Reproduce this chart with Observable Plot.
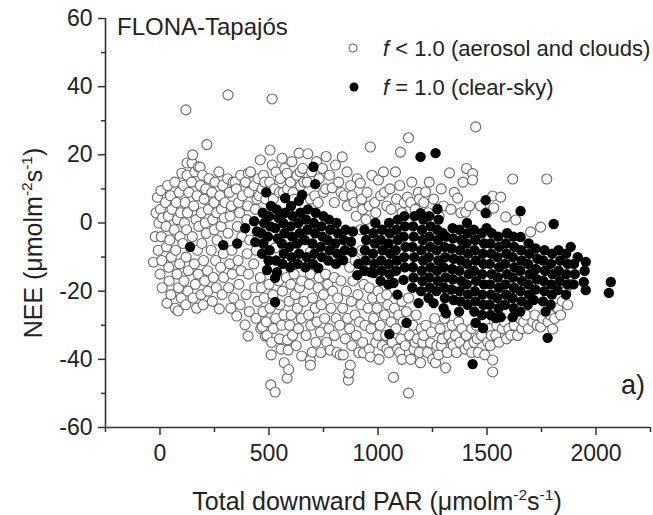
<!DOCTYPE html>
<html><head><meta charset="utf-8">
<script src="https://cdn.jsdelivr.net/npm/d3@7"></script>
<script src="https://cdn.jsdelivr.net/npm/@observablehq/plot@0.6"></script>
<style>body{margin:0;background:#fff}</style>
</head><body><div id="chart"></div>
<script>
const xMajorTicks = [0, 500, 1000, 1500, 2000];
const xMinorTicks = [-250, 250, 750, 1250, 1750, 2250];
const yMajorTicks = [-60, -40, -20, 0, 20, 40, 60];
const yMinorTicks = [-50, -30, -10, 10, 30, 50];
const siteName = "FLONA-Tapajós";
const panelTag = "a)";
const seriesLabels = [" < 1.0 (aerosol and clouds)", " = 1.0 (clear-sky)"];

// f < 1.0 : [PAR, NEE]
const openLeft = [[-30,-11.5],[-22,-4],[-18,3],[-12,7.5],[-8,-8],[-5,0],[0,-15],[2,4],[4,9.5],[6,-4],[8,-11],[10,-19],[12,1.5],
[25,6],[28,-1],[30,-7],[32,-23.5],[35,11],[38,2],[40,-13],[42,-17],[45,-5],[48,8],[50,-21],[52,-10],[55,4],
[65,-2],[68,12],[70,-25],[72,-8],[75,6],[78,-15],[80,1],[83,-25.8],[85,-19],[88,9],[90,-12],[92,-4],[95,3],[97,-22],
[100,14.6],[105,-6],[108,11],[110,-17],[112,0],[115,6],[118,-24],[120,-10],[122,-2],[124,17.6],[126,3],[128,-20],[130,-14],[132,9],[119,33.2],[124,14],
[145,12],[147,17.6],[148,-4],[150,20],[152,-22],[155,5],[158,-12],[160,15],[162,-18],[165,1],[168,-25],[170,8],[172,-8],[175,-15],[176,16.5],[178,-1],[184,16.4],
[185,11],[188,-21],[190,3],[192,-6],[195,14],[198,-24],[200,-11],[202,7],[205,-17],[208,0],[210,10],[212,-3],[215,23],[218,-14],[220,-20],[222,4],[225,13],
[235,-8],[238,9],[240,-23],[242,1],[245,-16],[248,6],[250,-2],[252,12],[255,-11],[258,-19],[260,3],[262,-5],
[270,15],[272,-25.2],[275,8],[278,-13],[280,-1],[282,4],[285,-21],[288,11],[290,-9],[292,-16],[295,1.5],[298,6],[312,37.6],
[310,13],[312,-3],[315,-19],[318,9],[320,-12],[322,2],[325,-25],[328,5],[330,-8],[332,-15],[335,12],[338,-22],
[345,12],[350,10],[352,-27.3],[355,-1],[358,-11],[360,6],[362,-18],[365,3],[368,-24],[370,14],[372,-14],[375,-4],[378,8],
[390,-29.9],[392,12],[395,-21],[398,1],[400,-9],[402,5],[404,-33.2],[406,-15],[408,9],[410,-26],[412,-5],[405,14.6],[415,15],
[430,-12],[432,11],[435,-19],[438,4],[440,-28],[442,-8],[445,7],[448,-23],[450,13]];

const openMid = [[455,8],[460,-16],[460,18.5],[462,-31],[465,-19],[468,10],[469,-30.5],[472,-26],[475,14],[478,-22],[480,12],[483,-33.2],[485,7],[488,-29],[491,-33],
[500,-18],[503,12],[505,-25],[505,21.4],[508,-47.5],[510,-38.7],[512,-35],[514,36.4],[515,17],[518,-21],[520,-31],[520,7],[525,10],[528,-49.6],[528,-7.3],[530,-28],[532,15],
[545,-17],[548,-34],[548,9],[550,-24],[552,13],[555,-37],[558,-30],[560,19],[562,-20],[565,9],[568,-27],[570,-41],[572,16],[580,-16],
[583,-45.5],[583,14.6],[585,-34.3],[585,10],[588,-37.3],[590,-43],[592,-23],[595,-30],[598,12],[600,-18],[602,-27],[605,18],[608,-33],[610,9],[615,-15],[615,7],
[620,-21],[625,-36],[628,14],[630,-25],[635,-31],[638,20.5],[640,-19],[643,15],[645,11],[648,-28],[650,-39],[650,-17],[655,16],[660,-23],[660,12],
[670,-33],[675,12],[678,20.3],[682,-27],[685,-18],[689,-40.2],[690,-41.7],[690,-8.5],[690,7],[692,-30],[695,15],[698,-37.9],[700,-22],[690,-15],
[710,8],[712,-25],[715,-35],[718,18],[720,-29],[725,-19],[725,6],[730,13],[730,-16],[735,-32],[738,-38],[740,-24],[745,16],
[750,-21],[750,9],[755,-28],[762,19.5],[760,10],[765,-35],[770,-18],[775,-31],[778,14],[781,-37.3],[785,-25],[790,10.3],[792,-20],[760,-15],
[800,-33],[800,6],[805,17],[808,-28],[812,-38],[815,-22],[800,-16],[820,12],[825,-30],[827,-38.7],[830,-17],[830,9],[836,19.4],[838,-25],[841,-38.7],[845,8],
[850,-34],[855,-20],[858,15],[860,-28],[860,5],[864,-46.1],[866,-44],[870,-31],[870,-13],[873,-41.7],[875,11],[878,-23],[880,-36],[880,8],[885,-17],
[890,6],[895,-27],[895,-11],[900,-33],[900,2],[905,13],[908,-21],[912,-38],[915,-29],[919,11.7],[920,-2],[922,-24],[925,7],[925,-8],[930,-35],[930,4],[933,-38.1],[935,-18],[940,-30],[945,1]];

const openRight = [[950,9],[955,-25],[960,-37],[960,-19],[960,5],[965,22.3],[965,-39.3],[968,-31],[972,14],[975,-22],[980,-28],[985,6],[990,-35],[990,3],[995,-25],
[1000,-20],[1000,-33],[1002,12.6],[1005,-40],[1010,-30],[1012,8],[1015,-22],[1020,-36],[1025,15],[1030,-27],[1030,9],[1035,-33],[1040,5],[1040,-21],[1040,-37],[1045,-24],[1050,-38],
[1055,10],[1060,-29],[1060,4],[1065,-35],[1071,-45.3],[1075,-25],[1080,15],[1082,-31],[1085,7],[1090,-37],[1095,-27],[1100,11],[1100,-38],
[1103,20.8],[1105,-34],[1110,-40],[1110,-23],[1110,3],[1115,-29],[1120,6],[1125,-36],[1130,-26],[1135,7.6],[1140,25],[1140,-49.9],[1140,-22],[1145,-33],[1150,-40],[1150,6],
[1155,12],[1160,-30],[1165,-37],[1170,4],[1170,-35],[1175,-27],[1180,-34],[1185,9],[1190,-38],[1190,7],[1195,-41],[1198,-31],[1180,-12],
[1205,-35],[1210,6],[1210,-33],[1218,9.1],[1220,-30],[1227,-38],[1230,3],[1235,12],[1241,-35.2],[1245,-32],[1250,-40],[1255,7],[1260,-28],[1264,-41],
[1270,-36],[1278,-38.7],[1280,2],[1285,-31],[1290,10],[1290,-36],[1295,-34],[1300,5],[1305,-28],[1310,-42.5],[1318,-38],
[1325,-33],[1328,14.7],[1335,4],[1340,-30],[1340,-35],[1345,-36],[1350,9],[1350,-20],[1355,-33],[1360,-38],[1365,7.3],[1370,-29],[1375,-35],[1380,3],[1385,-31],[1390,12],
[1400,-37],[1402,3.2],[1405,-33],[1406,16],[1415,-36],[1420,5],[1430,-31],[1430,-38],[1434,14.5],[1434,12.6],[1440,-35],[1448,28.2],[1450,-30],[1455,-34],
[1460,-38],[1470,5],[1475,-33],[1490,-38.7],[1490,-29],[1500,3],[1503,-34.9],[1510,-31],[1520,-33],
[1515,-36],[1526,7.9],[1526,-40.2],[1526,-43.7],[1531,4.4],[1540,-33],[1545,-30],[1555,-35],[1563,7.6],[1570,-31],[1580,-29],[1586,1.8],
[1590,-34],[1600,-31],[1600,-20],[1609,-32.9],[1618,12.9],[1625,-30],[1632,0.9],[1640,-33],[1650,-28],[1660,-31],[1668,-29],[1680,-27],[1690,-31],
[1700,-2.6],[1700,-15],[1710,-29],[1720,-27],[1730,-30],[1746,-1.2],[1746,-30.5],[1755,-28],[1774,12.9],[1780,-29],[1790,-27],[1801,-31.1],[1810,-28],
[1825,-25],[1838,-27],[1845,-23],[1860,-20],[1870,-24],[1880,-18]];

// f = 1.0 : [PAR, NEE]
const clearLow = [[138,-7],[290,-6.5],[354,-6],[391,-1.5],
[437,-5.6],[445,-2.5],[432,0.5],
[468,-9],[474,-6],[466,-3],[478,0],[471,3],[487,9],
[491,-13.8],[498,-11],[503,-8],[495,-4],[506,-1],[500,2],[509,5],
[528,-23.2],[528,-16.1],[537,-14.4],[532,-11],[540,-4.5],[529,-1.5],[543,1.5],[535,4],
[562,-12],[568,-9],[559,-6],[571,-3],[565,0],[574,3],[574,7.3],
[597,-13],[603,-10],[594,-7],[606,-4],[599,-1],[609,2],[601,5],
[632,-12],[638,-9],[629,-6],[641,-3],[635,0],[644,3],[652,8.2],[637,6.5],
[667,-13],[673,-10],[664,-5],[676,-2],[670,1],[679,4],
[702,-12],[708,-9],[699,-6],[711,-3],[705,0],[714,3],[704,16.5],[712,11.4],
[726,-13.2],[743,-10],[737,-7],[746,-4],[740,-1],[749,2],
[772,-11],[778,-8],[769,-5],[781,-2],[775,1],
[807,-12],[813,-9],[804,-6],[816,-3],[810,0],
[840,-10.9],[848,-8],[843,-5],[851,-2],
[882,-8.5],[876,-5.5],[885,-2.5],
[905,-15.3],[910,-12],
[937,-14],[943,-11],[940,-8],[946,-5],[938,-2],
[965,-14.4],[980,-14.7],[983,-12],[977,-9],[986,-6],[979,-3],[988,0]];

const clearHigh = [[1012,-17],[1018,-14],[1015,-11],[1021,-8],[1013,-5],[1019,-2],
[1047,-18],[1053,-15],[1050,-12],[1056,-9],[1048,-6],[1054,-3],[1051,0],[1052,-32.6],
[1071,-17.6],[1089,-21],[1083,-14],[1087,-11],[1081,-8],[1090,-5],[1085,-2],[1091,1],
[1117,-16.7],[1123,-13],[1120,-10],[1126,-7],[1118,-4],[1124,-1],[1121,2],[1131,-29.3],
[1157,-19],[1163,-16],[1160,-13],[1166,-10],[1158,-7],[1164,-4],[1161,-1],[1167,2],
[1186,-23.5],[1195,19.4],[1264,20.5],[1195,2.9],
[1198,-20],[1204,-17],[1201,-14],[1207,-11],[1199,-8],[1205,-5],[1202,-2],[1208,1],
[1232,-22],[1238,-19],[1235,-16],[1241,-13],[1233,-10],[1239,-7],[1236,-4],[1242,-1],[1234,2],
[1255,-23.5],[1268,-20],[1274,-17],[1271,-14],[1277,-11],[1269,-8],[1275,-5],[1272,-2],[1278,1],[1273,4.1],
[1301,-25],[1307,-22],[1304,-19],[1310,-16],[1302,-13],[1308,-10],[1296,-2.9],[1305,-7],[1311,-4],[1312,-26.5],
[1347,-22.6],[1337,-19.5],[1343,-16.5],[1340,-13.5],[1346,-10.5],[1338,-7.5],[1344,-4.5],[1342,-1.5],
[1372,-26],[1378,-23],[1375,-20],[1381,-17],[1373,-14],[1379,-11],[1376,-8],[1382,-5],[1374,-2],
[1411,-24],[1413,-21],[1407,-18],[1416,-15],[1409,-12],[1414,-9],[1406,-6],[1412,-3],[1408,0],
[1448,-29.3],[1442,-26],[1447,-23],[1444,-20],[1450,-17],[1441,-14],[1449,-11],[1443,-8],[1446,-5],[1440,-2],[1434,-41.4],
[1482,-30.8],[1477,-27],[1483,-24],[1479,-21],[1486,-18],[1478,-15],[1484,-12],[1481,-9],[1487,-6],[1476,-3],
[1517,-27],[1512,-24],[1518,-21],[1514,-18],[1521,-15],[1513,-12],[1519,-9],[1516,-6],[1522,-3],[1498,-1.5],[1494,2.9],[1494,6.7],
[1540,-27.9],[1553,-25],[1547,-22],[1554,-19],[1549,-16],[1556,-13],[1548,-10],[1555,-7],[1551,-4],
[1563,-27.6],[1582,-24],[1588,-21],[1584,-18],[1591,-15],[1583,-12],[1589,-9],[1586,-6],[1592,-3],
[1618,-27.6],[1623,-25],[1617,-22],[1624,-19],[1619,-16],[1626,-13],[1618,-10],[1625,-7],[1621,-4],[1654,3.5],
[1652,-26],[1658,-23],[1654,-20],[1661,-17],[1653,-14],[1659,-11],[1656,-8],[1654,-4.1],
[1687,-24],[1693,-21],[1689,-18],[1696,-15],[1688,-12],[1694,-9],[1691,-6],
[1714,-22.6],[1722,-19.5],[1728,-16.5],[1724,-13.5],[1731,-10.5],[1723,-7.5],
[1769,-26],[1757,-23],[1763,-20],[1759,-17],[1766,-14],[1758,-11],[1764,-8],[1778,-33.7],
[1792,-24],[1798,-21],[1794,-18],[1801,-15],[1793,-12],[1799,-9],[1806,-0.3],
[1824,-19.7],[1833,-17],[1829,-14],[1836,-11],[1828,-8],
[1862,-21],[1868,-18],[1864,-15],[1871,-12],[1863,-9],
[1897,-18],[1903,-15],[1899,-12],[1916,-10],[1884,-7],
[1953,-19.7],[1944,-17.3],[1948,-14],[1953,-11.4],
[2068,-17.3],[2059,-20.5]];

const openPoints = [...openLeft, ...openMid, ...openRight];
const clearPoints = [...clearLow, ...clearHigh];
const FONT = "'Liberation Sans', Arial, Helvetica, sans-serif";
const AX = "#333";

const chart = Plot.plot({
  width: 653, height: 515,
  marginLeft: 105, marginRight: 3, marginTop: 18, marginBottom: 88,
  x: {domain: [-250, 2250]},
  y: {domain: [-60, 60]},
  style: {fontFamily: FONT, background: "white", color: "#222", overflow: "visible"},
  marks: [
    Plot.dot(openPoints, {x: d => d[0], y: d => d[1], r: 5, fill: "white", stroke: "#666", strokeWidth: 1.1}),
    Plot.dot(clearPoints, {x: d => d[0], y: d => d[1], r: 5.2, fill: "black"}),
    Plot.ruleX([-250], {stroke: AX, strokeWidth: 1.6}),
    Plot.ruleY([-60], {stroke: AX, strokeWidth: 1.6}),
    Plot.axisX({ticks: xMajorTicks, tickSize: 8, tickPadding: 9, fontSize: 23, label: null, tickFormat: d => String(d), stroke: AX, strokeWidth: 1.5}),
    Plot.axisX({ticks: xMinorTicks, tickSize: 5, label: null, tickFormat: () => "", stroke: AX, strokeWidth: 1.5}),
    Plot.axisY({ticks: yMajorTicks, tickSize: 7, tickPadding: 6, fontSize: 23, label: null, tickFormat: d => String(d), stroke: AX, strokeWidth: 1.5}),
    Plot.axisY({ticks: yMinorTicks, tickSize: 4, label: null, tickFormat: () => "", stroke: AX, strokeWidth: 1.5})
  ]
});
document.getElementById("chart").appendChild(chart);

const svg = d3.select(chart);
function unitText(g, parts, size) {
  let up = false;
  parts.forEach(([t, sup]) => {
    const ts = g.append("tspan").text(t);
    if (sup && !up) { ts.attr("font-size", size * 0.62).attr("dy", -size * 0.42); up = true; }
    else if (!sup && up) { ts.attr("font-size", size).attr("dy", size * 0.42); up = false; }
  });
}
const unitParts = [["μmolm", 0], ["-2", 1], ["s", 0], ["-1", 1], [")", 0]];
const xt = svg.append("text").attr("x", 377).attr("y", 510).attr("text-anchor", "middle")
  .attr("font-family", FONT).attr("font-size", 25).attr("fill", "#222");
unitText(xt, [["Total downward PAR (", 0], ...unitParts], 25);
const yt = svg.append("text").attr("transform", "translate(42,243) rotate(-90)").attr("text-anchor", "middle")
  .attr("font-family", FONT).attr("font-size", 25).attr("fill", "#222");
unitText(yt, [["NEE (", 0], ...unitParts], 25);
svg.append("text").attr("x", 117).attr("y", 35).attr("text-anchor", "start").attr("font-family", FONT).attr("font-size", 24).attr("fill", "#222").text(siteName);
svg.append("text").attr("x", 645).attr("y", 394).attr("text-anchor", "end").attr("font-family", FONT).attr("font-size", 27).attr("fill", "#222").text(panelTag);
const lg = svg.append("g").attr("font-family", FONT).attr("font-size", 22).attr("fill", "#222").attr("text-anchor", "start");
lg.append("circle").attr("cx", 353).attr("cy", 48).attr("r", 4).attr("fill", "white").attr("stroke", "#666").attr("stroke-width", 1);
lg.append("circle").attr("cx", 354).attr("cy", 87).attr("r", 4.5).attr("fill", "black");
[[56, seriesLabels[0]], [95, seriesLabels[1]]].forEach(([y, label]) => {
  const t = lg.append("text").attr("x", 383).attr("y", y).attr("text-anchor", "start");
  t.append("tspan").attr("font-style", "italic").text("f");
  t.append("tspan").text(label);
});
</script>
</body></html>
